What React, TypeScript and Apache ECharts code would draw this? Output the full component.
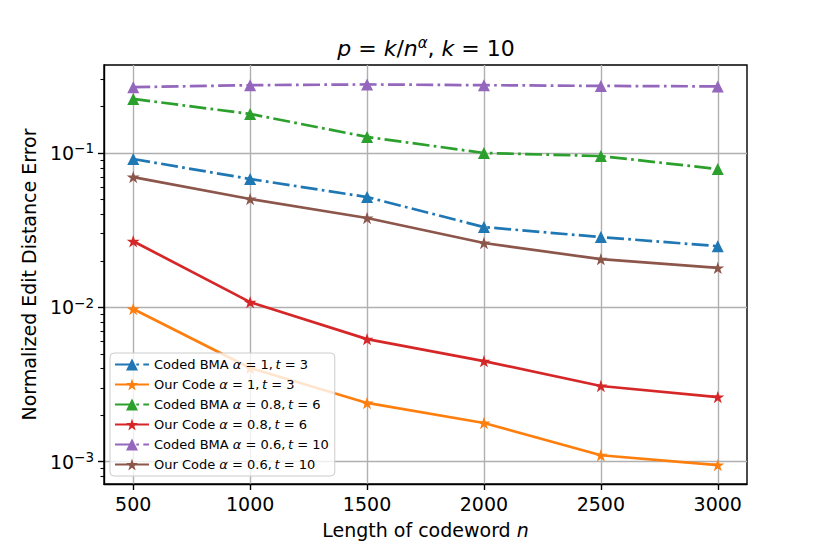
import React, { useEffect, useRef } from "react";
import * as echarts from "echarts";

const nValues = [500, 1000, 1500, 2000, 2500, 3000];
const bmaA1 = [0.0914, 0.0678, 0.0518, 0.0331, 0.0285, 0.0249];
const ourA1 = [0.00975, 0.00404, 0.0024, 0.00178, 0.0011, 0.00095];
const bmaA08 = [0.224, 0.179, 0.127, 0.1, 0.0955, 0.0787];
const ourA08 = [0.0268, 0.0108, 0.00622, 0.00448, 0.00309, 0.00262];
const bmaA06 = [0.267, 0.275, 0.278, 0.275, 0.272, 0.27];
const ourA06 = [0.0698, 0.0503, 0.0379, 0.0261, 0.0205, 0.018];

const seriesKeys = ["bmaA1", "ourA1", "bmaA08", "ourA08", "bmaA06", "ourA06"];
const seriesLabels = [
  "Coded BMA {i|α} = 1,\u2009{i|t} = 3",
  "Our Code {i|α} = 1,\u2009{i|t} = 3",
  "Coded BMA {i|α} = 0.8,\u2009{i|t} = 6",
  "Our Code {i|α} = 0.8,\u2009{i|t} = 6",
  "Coded BMA {i|α} = 0.6,\u2009{i|t} = 10",
  "Our Code {i|α} = 0.6,\u2009{i|t} = 10",
];
const seriesValues = [bmaA1, ourA1, bmaA08, ourA08, bmaA06, ourA06];
const seriesColors = ["#1f77b4", "#ff7f0e", "#2ca02c", "#d62728", "#9467bd", "#8c564b"];
const seriesIsBMA = [true, false, true, false, true, false];

const xTicks = [500, 1000, 1500, 2000, 2500, 3000];
const yMajorTicks = [0.001, 0.01, 0.1];
const yMinorTicks = [
  0.0008, 0.0009,
  0.002, 0.003, 0.004, 0.005, 0.006, 0.007, 0.008, 0.009,
  0.02, 0.03, 0.04, 0.05, 0.06, 0.07, 0.08, 0.09,
  0.2, 0.3,
];
const X_MIN = 375;
const X_MAX = 3125;
const Y_MIN = Math.pow(10, -3.145);
const Y_MAX = Math.pow(10, -0.43);

const FONT = "DejaVu Sans";

function starPath(): string {
  const pts: string[] = [];
  for (let i = 0; i < 10; i++) {
    const a = ((-90 + 36 * i) * Math.PI) / 180;
    const r = i % 2 === 0 ? 1 : 0.382;
    pts.push(`${(r * Math.cos(a)).toFixed(4)} ${(r * Math.sin(a)).toFixed(4)}`);
  }
  return "path://M" + pts.join(" L") + " Z";
}

export default function App() {
  const ref = useRef<HTMLDivElement>(null);
  useEffect(() => {
    if (!ref.current) return;
    const chart = echarts.init(ref.current, undefined, { renderer: "svg" });
    const star = starPath();
    const series: any[] = seriesKeys.map((key, i) => ({
      name: key,
      type: "line",
      xAxisIndex: 0,
      yAxisIndex: 0,
      data: nValues.map((n, j) => [n, seriesValues[i][j]]),
      symbol: seriesIsBMA[i] ? "triangle" : star,
      symbolSize: seriesIsBMA[i] ? 12 : 13,
      symbolKeepAspect: true,
      showSymbol: true,
      color: seriesColors[i],
      itemStyle: { color: seriesColors[i] },
      lineStyle: {
        color: seriesColors[i],
        width: 2.7,
        type: seriesIsBMA[i] ? [17, 4.3, 2.7, 4.3] : "solid",
      },
      z: 3 + i,
    }));

    const option: any = {
      animation: false,
      backgroundColor: "#ffffff",
      textStyle: { fontFamily: FONT },
      title: {
        text: "{i|p} = {i|k}/{i|n}{sup|α}, {i|k} = 10",
        left: 421,
        top: 30,
        textAlign: "center",
        textStyle: {
          fontFamily: FONT,
          fontSize: 22,
          fontWeight: "normal",
          color: "#000",
          rich: {
            i: { fontFamily: FONT, fontStyle: "italic", fontSize: 22, color: "#000" },
            sup: { fontFamily: FONT, fontStyle: "italic", fontSize: 15, color: "#000", verticalAlign: "top", lineHeight: 26 },
          },
        },
      },
      grid: { left: 104, right: 83, top: 65, bottom: 70, show: true, borderColor: "#000", borderWidth: 1.4, backgroundColor: "transparent" },
      legend: {
        data: seriesKeys,
        orient: "vertical",
        left: 110,
        top: 353,
        padding: [4, 6, 4, 4],
        itemWidth: 34,
        itemHeight: 15,
        itemGap: 5,
        backgroundColor: "rgba(255,255,255,0.8)",
        borderColor: "#cccccc",
        borderWidth: 1,
        borderRadius: 4,
        formatter: (name: string) => seriesLabels[seriesKeys.indexOf(name)],
        textStyle: {
          fontFamily: FONT,
          fontSize: 13,
          color: "#000",
          lineHeight: 15,
          rich: {
            i: { fontFamily: FONT, fontStyle: "italic", fontSize: 13, color: "#000", lineHeight: 15 },
          },
        },
        z: 20,
      },
      xAxis: {
        type: "value",
        min: X_MIN,
        max: X_MAX,
        name: "Length of codeword {i|n}",
        nameLocation: "middle",
        nameGap: 36,
        nameTextStyle: {
          fontFamily: FONT,
          fontSize: 19,
          color: "#000",
          rich: { i: { fontFamily: FONT, fontStyle: "italic", fontSize: 19, color: "#000" } },
        },
        axisLine: { show: true, lineStyle: { color: "#000", width: 1.4 } },
        axisTick: { show: true, inside: false, length: 6, customValues: xTicks, lineStyle: { color: "#000", width: 1.4 } },
        axisLabel: {
          show: true,
          customValues: xTicks,
          margin: 10,
          fontFamily: FONT,
          fontSize: 19,
          color: "#000",
          formatter: (v: number) => String(Math.round(v)),
        },
        splitLine: { show: true, lineStyle: { color: "#b0b0b0", width: 1.4 } },
      },
      yAxis: [
        {
          type: "log",
          logBase: 10,
          min: Y_MIN,
          max: Y_MAX,
          position: "left",
          name: "Normalized Edit Distance Error",
          nameLocation: "middle",
          nameGap: 66,
          nameTextStyle: { fontFamily: FONT, fontSize: 19, color: "#000" },
          axisLine: { show: true, lineStyle: { color: "#000", width: 1.4 } },
          axisTick: { show: true, inside: false, length: 6, customValues: yMajorTicks, lineStyle: { color: "#000", width: 1.4 } },
          axisLabel: {
            show: true,
            customValues: yMajorTicks,
            margin: 10,
            fontFamily: FONT,
            fontSize: 19,
            color: "#000",
            formatter: (v: number) => "10{sup|−" + Math.round(-Math.log10(v)) + "}",
            rich: {
              sup: { fontFamily: FONT, fontSize: 13.5, color: "#000", verticalAlign: "top", lineHeight: 23 },
            },
          },
          splitLine: { show: true, lineStyle: { color: "#b0b0b0", width: 1.4 } },
          minorTick: { show: false },
        },
        {
          type: "log",
          logBase: 10,
          min: Y_MIN,
          max: Y_MAX,
          position: "left",
          offset: 0,
          axisLine: { show: false },
          axisTick: { show: true, inside: false, length: 3.5, customValues: yMinorTicks, lineStyle: { color: "#000", width: 1.1 } },
          axisLabel: { show: false },
          splitLine: { show: false },
        },
      ],
      series,
    };
    chart.setOption(option);
    return () => chart.dispose();
  }, []);
  return <div ref={ref} style={{ position: "fixed", left: 0, top: 0, width: 830, height: 554 }} />;
}
